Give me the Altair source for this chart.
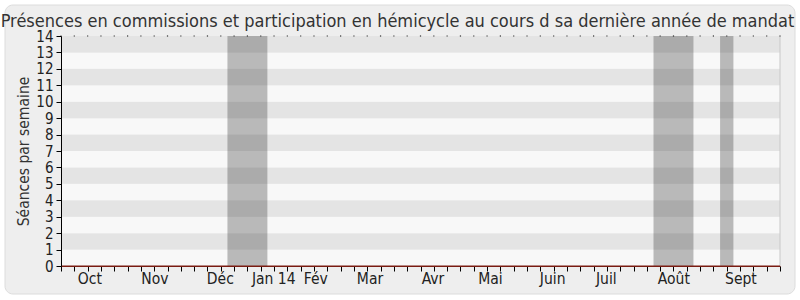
import altair as alt
import pandas as pd

# Weekly session counts over the last year of the mandate (55 weekly points)
weeks = [0, 1, 2, 3, 4, 5, 6, 7, 8, 9, 10, 11, 12, 13, 14, 15, 16, 17, 18,
         19, 20, 21, 22, 23, 24, 25, 26, 27, 28, 29, 30, 31, 32, 33, 34, 35,
         36, 37, 38, 39, 40, 41, 42, 43, 44, 45, 46, 47, 48, 49, 50, 51, 52,
         53, 54]
seances = [0, 0, 0, 0, 0, 0, 0, 0, 0, 0, 0, 0, 0, 0, 0, 0, 0, 0, 0,
           0, 0, 0, 0, 0, 0, 0, 0, 0, 0, 0, 0, 0, 0, 0, 0, 0,
           0, 0, 0, 0, 0, 0, 0, 0, 0, 0, 0, 0, 0, 0, 0, 0, 0,
           0, 0]

# Month labels and their positions (in weeks)
month_names = ["Oct", "Nov", "Déc", "Jan 14", "Fév", "Mar", "Avr", "Mai",
               "Juin", "Juil", "Août", "Sept"]
month_pos = [2.13, 7.02, 11.93, 15.94, 19.1, 23.17, 27.9, 32.22, 36.89,
             40.92, 45.99, 51.03]

# Parliamentary recess periods (in weeks)
recess_start = [12.5, 44.5, 49.5]
recess_end = [15.5, 47.5, 50.5]

# Horizontal background bands
band_lo = [0, 1, 2, 3, 4, 5, 6, 7, 8, 9, 10, 11, 12, 13]
band_shade = ["clair", "fonce", "clair", "fonce", "clair", "fonce", "clair",
              "fonce", "clair", "fonce", "clair", "fonce", "clair", "fonce"]

y_ticks = list(range(0, 15))
X_MAX = 54
Y_MAX = 14
W, H = 719, 230
FONT = "DejaVu Sans Condensed"
LINE_RED = "#7a1c12"

xscale = alt.Scale(domain=[0, X_MAX], nice=False, zero=False)
yscale = alt.Scale(domain=[0, Y_MAX], nice=False)

label_map = "{" + ", ".join(f"'{p}': '{n}'" for p, n in zip(month_pos, month_names)) + "}"

# One shared axis definition per channel, used by every layer
x_axis = alt.Axis(
    orient="bottom", values=weeks + month_pos, title=None,
    grid=False, domainColor=LINE_RED, tickColor="#000000",
    tickSize=5, zindex=1,
    tickOpacity={"condition": {"test": "datum.value % 1 != 0", "value": 0},
                 "value": 1},
    labelExpr=f"{label_map}[toString(datum.value)] || ''",
    labelOverlap=False, labelFlush=False, labelPadding=0,
    labelFont=FONT, labelFontSize=15.5, labelColor="#222222",
)
y_axis = alt.Axis(
    values=y_ticks, title="Séances par semaine",
    grid=False, domainColor="#000000", zindex=1, labelOverlap=False,
    tickColor="#000000", tickSize=5, labelPadding=3,
    labelFont=FONT, labelFontSize=15, labelColor="#222222",
    titleFont=FONT, titleFontSize=15.5, titleFontWeight="normal",
    titleColor="#333333", titlePadding=4,
)

series_df = pd.DataFrame({"semaine": weeks, "seances": seances})
top_df = pd.DataFrame({"semaine": weeks, "haut": [Y_MAX] * len(weeks)})
bands_df = pd.DataFrame({"lo": band_lo, "hi": [b + 1 for b in band_lo],
                         "shade": band_shade})
recess_df = pd.DataFrame({"debut": recess_start, "fin": recess_end,
                          "bas": [0] * 3, "haut": [Y_MAX] * 3})
edge_df = pd.DataFrame({"x": [X_MAX], "bas": [0], "haut": [Y_MAX]})
one_row = pd.DataFrame({"k": [0]})

# Rounded panel behind the whole chart
frame = alt.Chart(one_row).mark_rect(
    fill="#eeeeee", stroke="#dcdcdc", strokeWidth=1, cornerRadius=8, clip=False
).encode(
    x=alt.value(-56), x2=alt.value(W + 15),
    y=alt.value(-31), y2=alt.value(H + 28),
)

bands = alt.Chart(bands_df).mark_rect().encode(
    x=alt.value(0), x2=alt.value(W),
    y=alt.Y("lo:Q", scale=yscale, axis=y_axis),
    y2="hi:Q",
    color=alt.Color("shade:N", legend=None,
                    scale=alt.Scale(domain=["clair", "fonce"],
                                    range=["#f8f8f8", "#e4e4e4"])),
)

recess = alt.Chart(recess_df).mark_rect(color="#202020", opacity=0.29).encode(
    x=alt.X("debut:Q", scale=xscale, axis=x_axis),
    x2="fin:Q",
    y=alt.Y("bas:Q", scale=yscale, axis=y_axis),
    y2="haut:Q",
)

right_edge = alt.Chart(edge_df).mark_rule(color="#c8c8c8", strokeWidth=1).encode(
    x=alt.X("x:Q", scale=xscale, axis=x_axis),
    y=alt.Y("bas:Q", scale=yscale, axis=y_axis),
    y2="haut:Q",
)

# Dotted top edge: one dot per week
top_dots = alt.Chart(top_df).mark_square(size=1.5, color="#333333", opacity=1).encode(
    x=alt.X("semaine:Q", scale=xscale, axis=x_axis),
    y=alt.Y("haut:Q", scale=yscale, axis=y_axis),
)

line = alt.Chart(series_df).mark_line(color=LINE_RED, strokeWidth=1.2).encode(
    x=alt.X("semaine:Q", scale=xscale, axis=x_axis),
    y=alt.Y("seances:Q", scale=yscale, axis=y_axis),
)

chart = alt.layer(frame, bands, recess, right_edge, top_dots, line).properties(
    width=W, height=H,
    autosize=alt.AutoSizeParams(type="none"),
    padding={"left": 61, "top": 36, "right": 20, "bottom": 34},
    background="white",
    title=alt.TitleParams(
        "Présences en commissions et participation en hémicycle au cours d sa dernière année de mandat",
        font=FONT, fontSize=18, fontWeight="normal", color="#333333",
        anchor="middle", frame="group", dx=-23, baseline="alphabetic",
        offset=-40.5, zindex=1,
    ),
).configure_view(stroke=None).configure_axis(labelOverlap=False)

chart.save("out.html", embed_options={"renderer": "svg", "actions": False})
